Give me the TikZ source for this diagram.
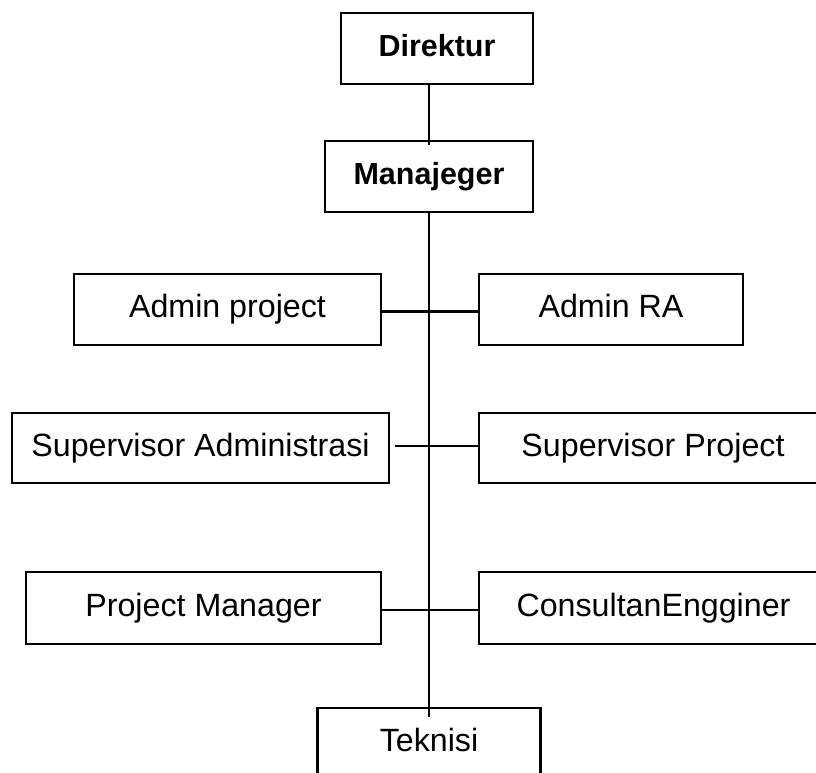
\documentclass[tikz,border=0pt]{standalone}
\usepackage{fontspec}
\setmainfont{Liberation Sans}
\begin{document}
\begin{tikzpicture}[x=1pt,y=-1pt,
  box/.style={draw=black,line width=2.2pt,rectangle,inner sep=0pt,
    text height=22pt,text depth=6pt,align=center,
    font=\fontsize{32.2}{36}\selectfont},
  bbox/.style={box,font=\fontsize{30.5}{36}\selectfont\bfseries},
  link/.style={draw=black,line width=2.2pt}]
\useasboundingbox (0,0) rectangle (816,773);
\clip (0,0) rectangle (816,773);
\node[bbox,minimum width=192pt,minimum height=71pt] (dir) at (437,48.5) {Direktur};
\node[bbox,minimum width=208pt,minimum height=71pt] (man) at (429,176.5) {Manajeger};
\node[box,minimum width=307pt,minimum height=71pt] (ap) at (227.5,309.5) {Admin project};
\node[box,minimum width=264pt,minimum height=71pt] (ara) at (611,309.5) {Admin RA};
\node[box,minimum width=377pt,minimum height=70pt] (sa) at (200.5,448) {Supervisor Administrasi};
\node[box,minimum width=348pt,minimum height=70pt] (sp) at (653,448) {Supervisor Project};
\node[box,minimum width=355pt,minimum height=72pt] (pm) at (203.5,608) {Project Manager};
\node[box,minimum width=349pt,minimum height=72pt] (ce) at (653.5,608) {ConsultanEngginer};
\node[box,minimum width=223pt,minimum height=71pt] (tek) at (429,743.5) {Teknisi};
\draw[link] (man.north |- dir.south) -- ([yshift=-5pt]man.north);
\draw[link] (man.south) -- ([yshift=-10pt]tek.north);
\draw[link] ([yshift=-2pt]ap.east) -- ([yshift=-2pt]ara.west);
\draw[link] ([xshift=5pt,yshift=2pt]sa.east) -- ([yshift=2pt]sp.west);
\draw[link] ([yshift=-2pt]pm.east) -- ([yshift=-2pt]ce.west);
\end{tikzpicture}
\end{document}
